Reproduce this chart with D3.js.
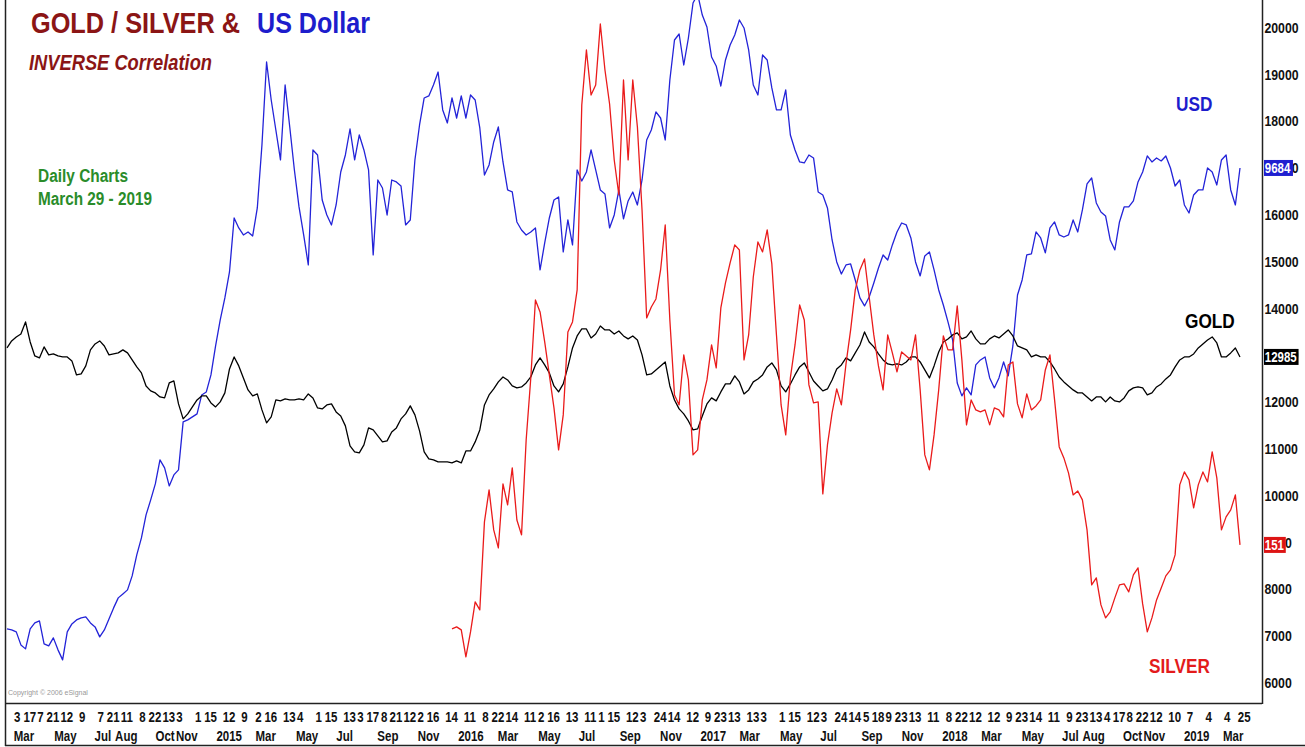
<!DOCTYPE html>
<html>
<head>
<meta charset="utf-8">
<script src="https://cdn.jsdelivr.net/npm/d3@7"></script>
<style>
  body { margin: 0; background: #fff; }
  svg { display: block; }
</style>
</head>
<body>
<svg id="chart"></svg>
<script>
// weekly closes (Fridays), all drawn against the right hand scale
const usdStart = "2014-02-21";
const goldStart = "2014-02-21";
const silverStart = "2015-12-25";

const usd = [
  7135,7114,7071,6793,6708,7135,7263,7306,6815,6772,
  6943,6687,6473,7071,7242,7327,7370,7392,7263,7178,
  6965,7114,7349,7584,7798,7883,7969,8268,8717,9080,
  9572,9892,10234,10747,10576,10191,10426,10533,11559,11602,
  11666,11730,12136,12200,12563,13183,13739,14209,14764,15918,
  15705,15555,15619,15534,16132,17478,19252,18440,17799,17158,
  18761,17863,16944,16154,15555,14914,17372,17265,16303,15982,
  15769,16196,16901,17265,17820,17158,17692,17372,16944,15128,
  16730,16559,15982,16730,16688,16602,15769,15876,17158,17906,
  18483,18526,18761,19038,18227,17949,18483,18055,18526,18055,
  18547,18440,17842,16837,17051,17543,17863,17115,16517,16474,
  15833,15662,15555,15619,15705,14807,15384,15918,16303,16367,
  15192,15876,15342,16944,16709,16901,17372,16944,16517,16431,
  15705,15982,16517,15897,16282,16474,16196,16730,17585,17799,
  18184,18055,17585,18868,19722,19850,19188,19765,20513,20700,
  20256,20000,19359,19167,18739,19295,19616,19829,20150,19979,
  19509,18761,18547,19402,19295,18697,18227,18227,18654,17692,
  17372,17115,17094,17265,17201,16474,16410,16132,15448,14978,
  14721,14914,14935,14593,14209,14038,14230,14529,14850,15128,
  15021,15342,15619,15811,15769,15491,14978,14679,15107,15192,
  14807,14380,14059,13696,13311,12392,12115,12286,12136,12777,
  12884,12948,12499,12286,12499,12841,12542,13183,14273,14593,
  15128,15149,15619,15491,15171,15705,15833,15555,15512,15555,
  15876,15619,16090,16645,16773,16239,16047,15961,15448,15235,
  15833,16154,16154,16282,16688,16901,17244,17115,17201,17137,
  17244,16987,16602,16730,16196,16025,16410,16517,16517,16987,
  16901,16623,17158,17265,16517,16196,16987
];

const gold = [
  13140,13290,13375,13439,13696,13268,12969,12927,13162,12991,
  13012,12969,12948,12948,12863,12563,12585,12756,13098,13226,
  13290,13183,12991,13012,13034,13098,13034,12884,12734,12606,
  12328,12222,12179,12093,12072,12392,12435,11944,11623,11730,
  11880,12029,12115,12115,11965,11880,11987,12179,12691,12948,
  12756,12499,12243,12115,12157,11816,11538,11666,12029,12008,
  12050,12029,12029,12050,12029,12157,12072,11858,11837,11922,
  11944,11773,11687,11474,11046,10918,10896,11067,11431,11388,
  11260,11132,11153,11345,11431,11623,11730,11901,11709,11367,
  10918,10768,10747,10704,10704,10704,10683,10725,10683,10939,
  10939,11132,11388,11922,12136,12264,12414,12520,12456,12328,
  12286,12307,12392,12520,12777,12927,12777,12606,12328,12200,
  12371,12734,13140,13397,13546,13546,13354,13439,13610,13525,
  13525,13439,13503,13397,13333,13397,13311,12991,12563,12585,
  12670,12756,12841,12328,12029,11837,11730,11580,11388,11410,
  11687,11944,12072,12008,12200,12371,12371,12542,12414,12157,
  12243,12414,12478,12563,12734,12820,12670,12328,12200,12371,
  12563,12734,12820,12627,12435,12328,12222,12264,12456,12691,
  12777,12927,12863,13034,13204,13482,13268,13162,13012,12884,
  12798,12777,12798,12777,12841,12948,12948,12841,12670,12499,
  12756,13055,13268,13333,13418,13461,13333,13375,13503,13333,
  13226,13226,13333,13397,13354,13439,13525,13397,13183,13140,
  13098,12948,12991,12948,12948,12841,12691,12520,12414,12328,
  12243,12179,12179,12093,12008,12093,12093,11987,12093,12008,
  11987,12072,12222,12286,12307,12286,12136,12179,12307,12371,
  12478,12563,12734,12884,12948,12948,13012,13140,13226,13311,
  13375,13247,12948,12948,13034,13140,12948
];

const silver = [
  7135,7178,7114,6537,7071,7712,7541,9422,10106,9251,
  8866,10234,9785,10576,9464,9144,11174,12499,14166,13910,
  13268,12563,11858,10961,11709,13482,13696,14380,18333,19509,
  18547,18761,20064,19081,18355,17158,16410,18868,17158,18868,
  17863,16090,13781,14016,14187,14807,15769,13739,12136,11922,
  12990,12456,10854,10961,12029,12456,13204,12713,13995,14529,
  14957,15342,15235,12884,13418,14657,15406,15192,15662,14936,
  13418,11922,11281,12499,13204,14059,13738,12350,11965,11987,
  10020,11067,11752,12264,11922,12798,13525,14380,14807,15042,
  14230,13418,12756,12243,13418,13034,12627,13055,12969,12884,
  13418,12243,10854,10533,11281,12243,13397,13098,13098,14038,
  12884,11495,12029,11816,11773,11816,11495,11858,11816,11666,
  12777,12841,11944,11645,12157,11816,11901,12029,12670,12990,
  12029,11025,10790,10469,9999,10084,9892,9251,8076,8225,
  7648,7370,7499,7798,8076,8097,7926,8289,8439,7669,
  7071,7370,7755,8011,8268,8396,8717,10213,10490,10319,
  9721,10213,10490,10276,10918,10362,9251,9529,9678,9999,
  8930
];

const lastTags = ["9684", "12985", "151"];
const seriesNames = ["USD", "GOLD", "SILVER"];

const yTicks = [6000,7000,8000,9000,10000,11000,12000,13000,14000,15000,16000,17000,18000,19000,20000];

// day-of-month tick row
const dayTicks = [
  "2014-03-03","2014-03-17","2014-04-07","2014-04-21","2014-05-12","2014-06-09",
  "2014-07-07","2014-07-21","2014-08-11","2014-09-08","2014-09-22","2014-10-13","2014-11-03",
  "2014-12-01","2014-12-15","2015-01-12","2015-02-09","2015-03-02","2015-03-16","2015-04-13","2015-05-04",
  "2015-06-01","2015-06-15","2015-07-13","2015-08-03","2015-08-17","2015-09-08","2015-09-21",
  "2015-10-12","2015-11-02","2015-11-16","2015-12-14",
  "2016-01-11","2016-02-08","2016-02-22","2016-03-14","2016-04-11","2016-05-02","2016-05-16",
  "2016-06-13","2016-07-11","2016-08-01","2016-08-15","2016-09-12","2016-10-03","2016-10-24",
  "2016-11-14","2016-12-12",
  "2017-01-09","2017-01-23","2017-02-13","2017-03-13","2017-04-03","2017-05-01","2017-05-15",
  "2017-06-12","2017-07-03","2017-07-24","2017-08-14","2017-09-05","2017-09-18","2017-10-09",
  "2017-10-23","2017-11-13","2017-12-11",
  "2018-01-08","2018-01-22","2018-02-12","2018-03-12","2018-04-09","2018-04-23","2018-05-14",
  "2018-06-11","2018-07-09","2018-07-23","2018-08-13","2018-09-04","2018-09-17","2018-10-08",
  "2018-10-22","2018-11-12","2018-12-10",
  "2019-01-07","2019-02-04","2019-03-04","2019-03-25"
];

const monthTicks = [
  "2014-03-01","2014-05-01","2014-07-01","2014-08-01","2014-10-01","2014-11-01",
  "2015-01-01","2015-03-01","2015-05-01","2015-07-01","2015-09-01","2015-11-01",
  "2016-01-01","2016-03-01","2016-05-01","2016-07-01","2016-09-01","2016-11-01",
  "2017-01-01","2017-03-01","2017-05-01","2017-07-01","2017-09-01","2017-11-01",
  "2018-01-01","2018-03-01","2018-05-01","2018-07-01","2018-08-01","2018-10-01","2018-11-01",
  "2019-01-01","2019-03-01"
];
const monthLabels = [
  "Mar","May","Jul","Aug","Oct","Nov",
  "2015","Mar","May","Jul","Sep","Nov",
  "2016","Mar","May","Jul","Sep","Nov",
  "2017","Mar","May","Jul","Sep","Nov",
  "2018","Mar","May","Jul","Aug","Oct","Nov",
  "2019","Mar"
];

const w = 1305;
const h = 747;
const plotLeft = 6, plotRight = 1262, plotBottom = 703;
const font = '"Liberation Sans", Arial, sans-serif';
const squeeze = 0.82;   // narrow look of the original lettering

let parse = d3.timeParse("%Y-%m-%d");
let svg = d3.select("#chart").attr("width", w).attr("height", h);

svg.append("rect").attr("width", w).attr("height", h).attr("fill", "#fff");

let xScale = d3.scaleTime()
  .domain([parse("2014-02-21"), parse("2019-03-29")])
  .range([7, 1240]);

let yScale = d3.scaleLinear()
  .domain([6000, 20000])
  .range([682, 27]);

let weekly = (start, values) => {
  let s = parse(start);
  return values.map((v, i) => ({ date: d3.timeDay.offset(s, i * 7), v: v }));
};

let series = [
  { data: weekly(usdStart, usd), color: "#2323d8" },
  { data: weekly(goldStart, gold), color: "#000000" },
  { data: weekly(silverStart, silver), color: "#ea1b1b" }
];

svg.append("clipPath").attr("id", "plot")
  .append("rect")
  .attr("x", plotLeft).attr("y", 0)
  .attr("width", plotRight - plotLeft).attr("height", plotBottom);

let line = d3.line()
  .x(d => xScale(d.date))
  .y(d => yScale(d.v));

let lines = svg.append("g").attr("clip-path", "url(#plot)");
series.forEach(s => {
  lines.append("path")
    .datum(s.data)
    .attr("d", line)
    .attr("fill", "none")
    .attr("stroke", s.color)
    .attr("stroke-width", 1.3)
    .attr("stroke-linejoin", "round");
});

// frame
let frame = svg.append("g").attr("stroke", "#222").attr("stroke-width", 1.5).attr("fill", "none");
frame.append("line").attr("x1", 5.5).attr("x2", 5.5).attr("y1", 0).attr("y2", 746);
frame.append("line").attr("x1", 5).attr("x2", plotRight).attr("y1", plotBottom + 0.5).attr("y2", plotBottom + 0.5);
frame.append("line").attr("x1", plotRight + 0.5).attr("x2", plotRight + 0.5).attr("y1", 0).attr("y2", plotBottom + 1);
frame.append("line").attr("x1", 5).attr("x2", w).attr("y1", 745.5).attr("y2", 745.5);

// right scale
let yAxis = d3.axisRight(yScale)
  .tickValues(yTicks)
  .tickSize(0)
  .tickPadding(3)
  .tickFormat(d3.format("d"));

let yg = svg.append("g")
  .attr("transform", "translate(" + plotRight + ",0)")
  .call(yAxis);
yg.select(".domain").remove();
yg.selectAll("text")
  .attr("font-family", font)
  .attr("font-weight", "bold")
  .attr("font-size", 15)
  .attr("fill", "#111")
  .attr("dy", "0.36em")
  .attr("transform", "scale(" + squeeze + ",1)");

// last value tags
let tagColors = ["#1f1fd0", "#000000", "#dd1414"];
series.forEach((s, i) => {
  let last = s.data[s.data.length - 1];
  let yy = yScale(last.v);
  let g = svg.append("g").attr("transform", "translate(" + (plotRight + 2) + "," + yy + ")");
  let rect = g.append("rect").attr("y", -8).attr("height", 16).attr("fill", tagColors[i]);
  let t = g.append("text")
    .attr("x", 1)
    .attr("dy", "0.36em")
    .attr("font-family", font)
    .attr("font-weight", "bold")
    .attr("font-size", 14)
    .attr("fill", "#fff")
    .attr("transform", "scale(" + squeeze + ",1)")
    .text(lastTags[i]);
  rect.attr("width", (t.node().getBBox().width + 2) * squeeze + 1);
});

// date rows
let styleRow = (sel, y) => {
  sel.select(".domain").remove();
  sel.selectAll("text")
    .attr("text-anchor", "start")
    .attr("x", 0).attr("y", y).attr("dy", 0)
    .attr("font-family", font).attr("font-weight", "bold").attr("font-size", 14).attr("fill", "#111")
    .attr("transform", "scale(" + squeeze + ",1)");
};

let dayAxis = d3.axisBottom(xScale)
  .tickValues(dayTicks.map(parse))
  .tickSize(0)
  .tickFormat(d => d.getDate());
styleRow(svg.append("g").attr("transform", "translate(0," + plotBottom + ")").call(dayAxis), 19);

let monthAxis = d3.axisBottom(xScale)
  .tickValues(monthTicks.map(parse))
  .tickSize(0)
  .tickFormat((d, i) => monthLabels[i]);
styleRow(svg.append("g").attr("transform", "translate(1," + plotBottom + ")").call(monthAxis), 38);

// titles and labels
let label = (x, y, txt, size, color, opts) => {
  opts = opts || {};
  let t = svg.append("text")
    .attr("x", x).attr("y", y)
    .attr("font-family", font)
    .attr("font-weight", "bold")
    .attr("font-size", size)
    .attr("fill", color)
    .text(txt);
  if (opts.italic) t.attr("font-style", "italic");
  let len = opts.len || t.node().getComputedTextLength() * squeeze;
  t.attr("textLength", len).attr("lengthAdjust", "spacingAndGlyphs");
  return t;
};

label(31, 33, "GOLD / SILVER &", 30, "#8b1515", { len: 209 });
label(257, 33, "US Dollar", 30, "#1d1dcc", { len: 113 });
label(29, 70, "INVERSE Correlation", 22, "#8b1515", { italic: true, len: 183 });
label(38, 182, "Daily Charts", 18, "#2a8c2a", { len: 90 });
label(38, 205, "March 29 - 2019", 18, "#2a8c2a", { len: 114 });

label(1176, 111, seriesNames[0], 21, "#1d1dcc");
label(1185, 328, seriesNames[1], 21, "#000");
label(1149, 673, seriesNames[2], 21, "#e31b1b");

svg.append("text")
  .attr("x", 8).attr("y", 695)
  .attr("font-family", font)
  .attr("font-size", 7)
  .attr("fill", "#999")
  .text("Copyright \u00a9 2006 eSignal");
</script>
</body>
</html>
